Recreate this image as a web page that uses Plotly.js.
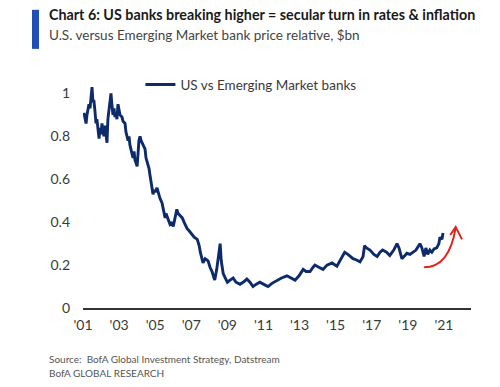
<!DOCTYPE html>
<html>
<head>
<meta charset="utf-8">
<script src="https://cdn.plot.ly/plotly-3.0.1.min.js"></script>
<style>
html,body{margin:0;padding:0;background:#fff;}
#chart{width:500px;height:387px;}
</style>
</head>
<body>
<div id="chart"></div>
<script>
// Decimal years and US vs EM bank price relative
const years = [
2001.05,2001.10,2001.17,2001.22,2001.33,2001.39,2001.45,2001.50,2001.55,2001.60,2001.66,2001.72,2001.77,2001.83,2001.89,2001.94,
2002.00,2002.05,2002.11,2002.16,2002.22,2002.27,2002.33,2002.38,2002.44,2002.49,2002.55,2002.60,2002.66,2002.72,2002.77,2002.83,2002.88,2002.94,2002.99,
2003.05,2003.16,2003.22,2003.33,2003.38,2003.50,2003.55,2003.60,2003.72,2003.77,2003.83,2003.88,2004.00,2004.05,2004.10,2004.16,2004.22,2004.33,2004.44,2004.49,
2004.60,2004.66,2004.71,2004.77,2004.88,2004.94,2005.00,2005.10,2005.16,2005.27,2005.38,2005.44,2005.55,2005.60,2005.71,2005.82,2005.93,2006.00,2006.10,2006.20,
2006.27,2006.38,2006.50,2006.60,2006.77,2006.88,2007.05,2007.16,2007.33,2007.44,2007.50,2007.60,2007.65,2007.77,2007.93,2008.04,2008.15,2008.26,2008.30,2008.41,
2008.52,2008.60,2008.66,2008.77,2008.88,2009.00,2009.15,2009.32,2009.48,2009.70,2009.87,2010.08,2010.25,2010.42,2010.58,2010.80,2011.02,2011.25,2011.47,2011.75,
2012.00,2012.30,2012.52,2012.75,2012.97,2013.20,2013.36,2013.58,2013.75,2013.85,2014.07,2014.30,2014.52,2014.80,2015.07,2015.24,2015.40,2015.50,2015.68,2015.96,
2016.13,2016.35,2016.52,2016.60,2016.71,2016.90,2017.12,2017.30,2017.46,2017.60,2017.82,2018.00,2018.22,2018.40,2018.51,2018.62,2018.67,2018.84,2018.95,2019.12,
2019.28,2019.45,2019.67,2019.78,2019.90,2020.00,2020.10,2020.22,2020.33,2020.45,2020.60,2020.72,2020.78,2020.89,2020.95
];
const usVsEm = [
0.91,0.88,0.86,0.90,0.95,0.93,0.98,1.03,0.96,0.97,0.92,0.86,0.88,0.82,0.79,0.84,
0.81,0.86,0.83,0.80,0.85,0.82,0.77,0.88,0.93,0.96,1.00,0.95,0.90,0.93,0.89,0.91,0.88,0.95,0.92,
0.90,0.89,0.87,0.86,0.82,0.78,0.80,0.76,0.72,0.70,0.73,0.69,0.66,0.72,0.78,0.80,0.78,0.76,0.74,0.70,
0.67,0.65,0.62,0.58,0.53,0.55,0.54,0.56,0.54,0.51,0.49,0.47,0.42,0.44,0.41,0.39,0.40,0.38,0.42,0.46,
0.44,0.43,0.42,0.40,0.37,0.36,0.34,0.33,0.32,0.29,0.26,0.23,0.21,0.23,0.22,0.19,0.17,0.14,0.13,0.18,
0.26,0.30,0.22,0.16,0.14,0.12,0.13,0.14,0.12,0.11,0.12,0.135,0.12,0.10,0.11,0.12,0.11,0.10,0.115,0.13,
0.14,0.15,0.14,0.13,0.15,0.18,0.17,0.17,0.19,0.20,0.19,0.18,0.20,0.21,0.195,0.22,0.24,0.26,0.25,0.23,
0.225,0.215,0.24,0.29,0.28,0.27,0.25,0.24,0.26,0.27,0.26,0.245,0.27,0.30,0.28,0.25,0.23,0.245,0.255,0.25,
0.26,0.27,0.30,0.28,0.24,0.28,0.25,0.27,0.26,0.275,0.28,0.30,0.33,0.32,0.35
];
const tickYears = [2001,2003,2005,2007,2009,2011,2013,2015,2017,2019,2021];
const tickLabels = ["'01","'03","'05","'07","'09","'11","'13","'15","'17","'19","'21"];
const seriesName = "US vs Emerging Market banks";

const trace = {
  x: years, y: usVsEm, type: 'scatter', mode: 'lines', name: seriesName,
  line: {color: '#0d2a6b', width: 2.9}
};

const layout = {
  width: 500, height: 387,
  margin: {l: 83, r: 29, t: 71.5, b: 79},
  paper_bgcolor: '#fff', plot_bgcolor: '#fff',
  font: {family: 'Lato, "Open Sans", sans-serif', color: '#3a3a3a', size: 14},
  showlegend: true,
  legend: {x: 0.148, y: 1.012, xanchor: 'left', yanchor: 'top', bgcolor: 'rgba(0,0,0,0)',
           font: {size: 13.5, color: '#3a3a3a'}},
  xaxis: {range: [2001, 2022.5], tickvals: tickYears, ticktext: tickLabels,
          showgrid: false, zeroline: false, showline: true, linecolor: '#333', linewidth: 1.5,
          ticks: '', ticklabelstandoff: 4, fixedrange: true},
  yaxis: {range: [0, 1.1], tickvals: [0,0.2,0.4,0.6,0.8,1], ticktext: ['0','0.2','0.4','0.6','0.8','1'],
          showgrid: false, zeroline: false, showline: false, ticks: '', ticklabelstandoff: 12, fixedrange: true},
  shapes: [
    {type: 'rect', xref: 'paper', yref: 'paper', x0: -0.1314, x1: -0.1134, y0: 1.098, y1: 1.2635,
     fillcolor: '#1f4fb5', line: {width: 0}},
    {type: 'path', xref: 'x', yref: 'y', path: 'M 2019.9,0.19 Q 2021.3,0.19 2021.65,0.375',
     line: {color: '#e8201c', width: 2}},
    {type: 'path', xref: 'x', yref: 'y', path: 'M 2021.35,0.34 L 2021.65,0.378 L 2022.0,0.32',
     line: {color: '#e8201c', width: 2}}
  ],
  annotations: [
    {xref: 'paper', yref: 'paper', x: -0.0928, y: 1.245, xanchor: 'left', yanchor: 'middle', showarrow: false,
     text: '<b>Chart 6: US banks breaking higher = secular turn in rates & inflation</b>',
     font: {family: 'Lato, "Open Sans", sans-serif', size: 14.3, color: '#1a1a1a'}},
    {xref: 'paper', yref: 'paper', x: -0.0928, y: 1.155, xanchor: 'left', yanchor: 'middle', showarrow: false,
     text: 'U.S. versus Emerging Market bank price relative, $bn',
     font: {family: 'Lato, sans-serif', size: 13.5, color: '#444'}},
    {xref: 'paper', yref: 'paper', x: -0.0928, y: -0.215, xanchor: 'left', yanchor: 'middle', showarrow: false,
     text: 'Source:  BofA Global Investment Strategy, Datstream',
     font: {family: 'Lato, sans-serif', size: 10, color: '#555'}},
    {xref: 'paper', yref: 'paper', x: -0.0928, y: -0.275, xanchor: 'left', yanchor: 'middle', showarrow: false,
     text: 'BofA GLOBAL RESEARCH',
     font: {family: 'Lato, sans-serif', size: 10, color: '#555'}}
  ]
};

Plotly.newPlot('chart', [trace], layout, {staticPlot: true, displayModeBar: false});
</script>
</body>
</html>
